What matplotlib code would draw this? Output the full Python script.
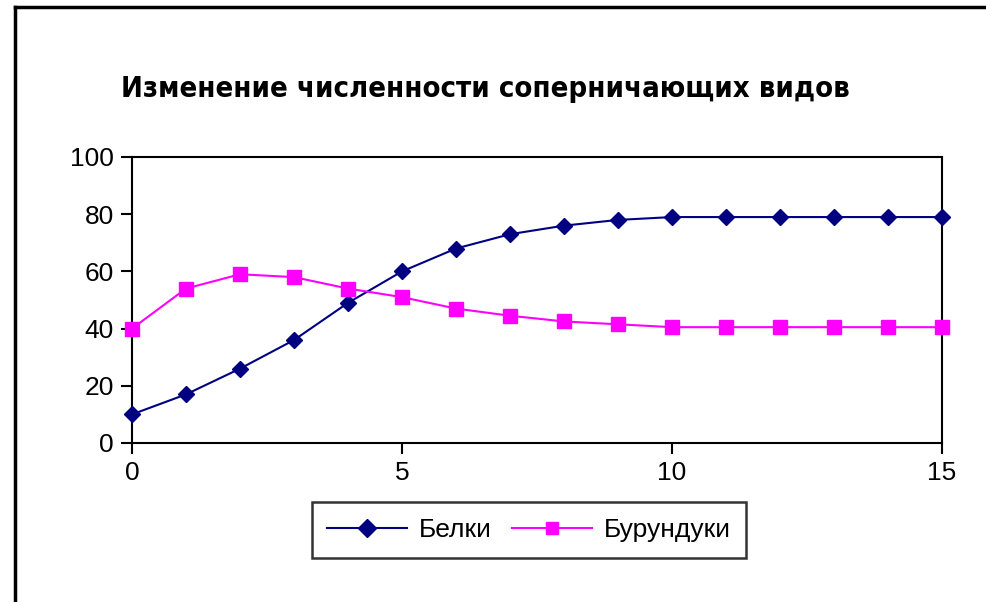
import matplotlib as mpl
import matplotlib.pyplot as plt
import numpy as np

mpl.rcParams['font.family'] = ['Liberation Sans', 'DejaVu Sans']

# data
steps = list(range(16))
belki = [10, 17, 26, 36, 49, 60, 68, 73, 76, 78, 79, 79, 79, 79, 79, 79]
burunduki = [40, 54, 59, 58, 54, 51, 47, 44.5, 42.5, 41.5, 40.5, 40.5, 40.5, 40.5, 40.5, 40.5]
title = "Изменение численности соперничающих видов"
labels = ["Белки", "Бурундуки"]

fig = plt.figure(figsize=(9.86, 6.02), dpi=100)
ax = fig.add_axes([132/986, 1 - 443/602, 810/986, 286/602])

ax.plot(steps, belki, color='#000080', marker='D', markersize=8, lw=1.5,
        label=labels[0], clip_on=False, zorder=3)
ax.plot(steps, burunduki, color='#FF00FF', marker='s', markersize=9.5, lw=1.5,
        label=labels[1], clip_on=False, zorder=3)

ax.set_xlim(0, 15)
ax.set_ylim(0, 100)
ax.set_xticks([0, 5, 10, 15])
ax.set_yticks([0, 20, 40, 60, 80, 100])
ax.tick_params(direction='out', length=8, width=1.5, labelsize=19, pad=5, color='black')
for s in ax.spines.values():
    s.set_linewidth(1.5)

fig.text(485/986, 1 - 89/602, title, ha='center', va='center',
         fontsize=21, fontweight='heavy', family=['DejaVu Sans'], fontstretch='condensed')

leg = fig.legend(loc='center', bbox_to_anchor=(529/986, 1 - 530/602), ncol=2,
                 fontsize=19, frameon=True, fancybox=False, edgecolor='black',
                 handlelength=3.0, columnspacing=0.8, handletextpad=0.45, borderpad=0.6,
                 borderaxespad=0)
leg.get_frame().set_linewidth(1.8)
for h in leg.legend_handles:
    h.set_markersize(9)

# outer frame lines (left and top)
fig.add_artist(plt.Line2D([15/986, 15/986], [0, 1 - 7/602], color='black', lw=2.5))
fig.add_artist(plt.Line2D([15/986, 1], [1 - 7/602, 1 - 7/602], color='black', lw=2.5))

fig.savefig('out.png', dpi=100)
